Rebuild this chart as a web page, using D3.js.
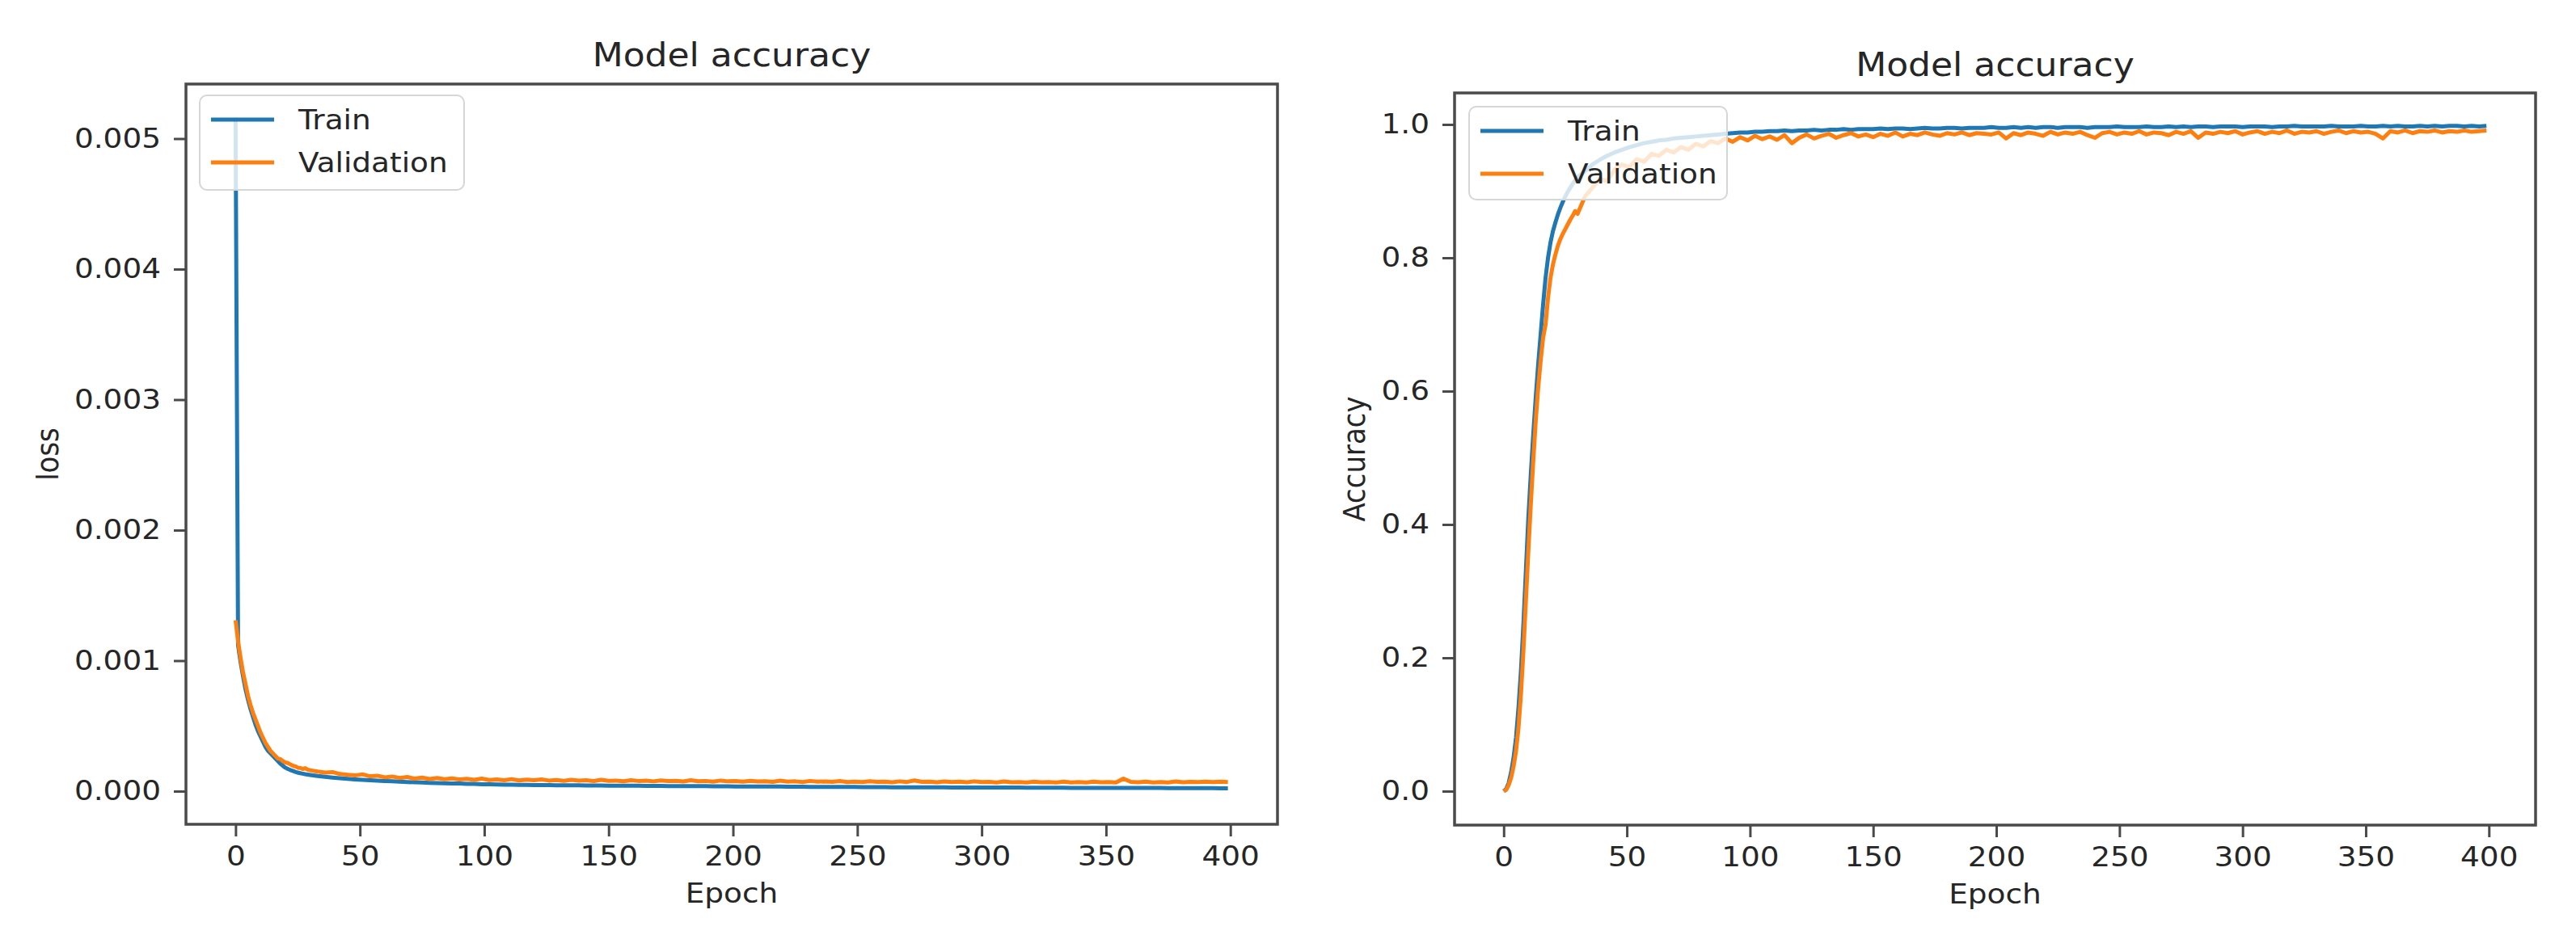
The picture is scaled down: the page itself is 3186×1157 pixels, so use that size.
<!DOCTYPE html>
<html>
<head>
<meta charset="utf-8">
<script src="https://cdn.jsdelivr.net/npm/d3@7"></script>
<style>
  html, body { margin: 0; padding: 0; background: #ffffff; }
  svg { display: block; }
  text { font-family: "DejaVu Sans", sans-serif; fill: #262626; }
</style>
</head>
<body>
<script>
// ---------------- DATA ----------------
const epochs = [
  0,1,2,3,4,5,6,7,8,9,10,11,12,13,14,15,16,17,18,19,20,21,22,23,24,25,26,27,28,29,30,
  33,36,39,42,45,48,51,54,57,60,
  63,66,69,72,75,78,81,84,87,90,
  93,96,99,102,105,108,111,114,117,120,
  123,126,129,132,135,138,141,144,147,150,
  153,156,159,162,165,168,171,174,177,180,
  183,186,189,192,195,198,201,204,207,210,
  213,216,219,222,225,228,231,234,237,240,
  243,246,249,252,255,258,261,264,267,270,
  273,276,279,282,285,288,291,294,297,300,
  303,306,309,312,315,318,321,324,327,330,
  333,336,339,342,345,348,351,354,357,360,
  363,366,369,372,375,378,381,384,387,390,
  393,396,399
];

const lossTrain = [
  0.00516,0.00112,0.00099,0.00088,0.00078,0.00070,0.00063,0.00057,0.00051,0.00046,0.00042,0.00038,0.00034,0.00031,
  0.00029,0.00027,0.00025,0.00023,0.00021,0.000195,0.00018,0.00017,0.000162,0.000155,0.000148,0.000142,0.000138,0.000134,0.00013,0.000127,0.000124,
  11.6e-5,11.0e-5,10.4e-5,9.9e-5,9.4e-5,9.0e-5,8.7e-5,8.3e-5,8.0e-5,7.7e-5,
  7.5e-5,7.2e-5,7.0e-5,6.8e-5,6.6e-5,6.4e-5,6.2e-5,6.0e-5,5.9e-5,5.8e-5,
  5.6e-5,5.5e-5,5.3e-5,5.2e-5,5.1e-5,5.0e-5,4.9e-5,4.8e-5,4.8e-5,4.7e-5,
  4.6e-5,4.6e-5,4.5e-5,4.5e-5,4.4e-5,4.4e-5,4.3e-5,4.3e-5,4.3e-5,4.2e-5,
  4.2e-5,4.1e-5,4.1e-5,4.1e-5,4.0e-5,4.0e-5,4.0e-5,3.9e-5,3.9e-5,3.9e-5,
  3.8e-5,3.8e-5,3.8e-5,3.7e-5,3.7e-5,3.7e-5,3.6e-5,3.6e-5,3.6e-5,3.5e-5,
  3.5e-5,3.5e-5,3.5e-5,3.4e-5,3.4e-5,3.4e-5,3.3e-5,3.3e-5,3.3e-5,3.3e-5,
  3.2e-5,3.2e-5,3.2e-5,3.1e-5,3.1e-5,3.1e-5,3.1e-5,3.0e-5,3.0e-5,3.0e-5,
  3.0e-5,2.9e-5,2.9e-5,2.9e-5,2.9e-5,2.8e-5,2.8e-5,2.8e-5,2.8e-5,2.8e-5,
  2.7e-5,2.7e-5,2.7e-5,2.7e-5,2.7e-5,2.6e-5,2.6e-5,2.6e-5,2.6e-5,2.6e-5,
  2.6e-5,2.5e-5,2.5e-5,2.5e-5,2.5e-5,2.5e-5,2.5e-5,2.4e-5,2.4e-5,2.4e-5,
  2.4e-5,2.4e-5,2.4e-5,2.4e-5,2.3e-5,2.3e-5,2.3e-5,2.3e-5,2.3e-5,2.3e-5,
  2.3e-5,2.2e-5,2.2e-5
];

const lossVal = [
  0.00131,0.00115,0.00102,0.00091,0.00082,0.00073,0.00066,0.00060,0.00055,0.00050,0.00045,0.00041,0.00037,0.00034,
  0.00031,0.00029,0.00027,0.00025,0.000245,0.00023,0.00022,0.000215,0.000205,0.000195,0.00019,0.00018,0.000178,0.00017,0.000176,0.000165,0.00016,
  15.0e-5,14.2e-5,14.6e-5,13.1e-5,12.6e-5,12.0e-5,12.9e-5,11.4e-5,11.8e-5,10.6e-5,
  11.2e-5,10.1e-5,10.8e-5,9.6e-5,10.4e-5,9.3e-5,10.0e-5,9.1e-5,9.8e-5,9.0e-5,
  9.4e-5,8.7e-5,9.6e-5,8.5e-5,8.9e-5,8.4e-5,9.2e-5,8.2e-5,8.8e-5,8.3e-5,
  9.0e-5,8.1e-5,8.5e-5,7.9e-5,8.7e-5,8.0e-5,8.3e-5,7.7e-5,8.6e-5,7.9e-5,
  8.1e-5,7.6e-5,8.4e-5,7.8e-5,8.0e-5,7.5e-5,8.2e-5,7.7e-5,7.9e-5,7.4e-5,
  8.3e-5,7.6e-5,7.8e-5,7.3e-5,8.1e-5,7.5e-5,7.7e-5,7.2e-5,7.9e-5,7.4e-5,
  7.6e-5,7.1e-5,8.0e-5,7.3e-5,7.5e-5,7.0e-5,7.8e-5,7.2e-5,7.4e-5,7.1e-5,
  7.7e-5,7.0e-5,7.3e-5,6.9e-5,7.6e-5,7.1e-5,7.2e-5,6.8e-5,7.5e-5,7.0e-5,
  8.2e-5,7.1e-5,7.3e-5,6.8e-5,7.4e-5,6.9e-5,7.2e-5,6.8e-5,7.5e-5,6.9e-5,
  7.1e-5,6.7e-5,7.4e-5,6.8e-5,7.0e-5,6.6e-5,7.3e-5,6.8e-5,7.0e-5,6.7e-5,
  7.2e-5,6.6e-5,6.9e-5,6.7e-5,7.3e-5,6.8e-5,7.0e-5,6.6e-5,9.6e-5,7.1e-5,
  6.8e-5,7.2e-5,6.6e-5,7.0e-5,6.7e-5,7.4e-5,6.8e-5,7.1e-5,6.9e-5,7.3e-5,
  6.9e-5,7.2e-5,7.0e-5
];

const accTrain = [
  0,0.003,0.012,0.028,0.05,0.08,0.125,0.18,0.25,0.33,0.41,0.475,0.535,0.59,0.64,0.685,
  0.73,0.77,0.80,0.823,0.84,0.853,0.865,0.875,0.884,0.892,0.899,0.905,0.911,0.916,0.921,
  0.93,0.94,0.947,0.953,0.958,0.962,0.966,0.969,0.972,0.974,
  0.976,0.977,0.979,0.98,0.981,0.982,0.983,0.984,0.985,0.986,
  0.987,0.988,0.988,0.989,0.989,0.99,0.99,0.991,0.99,0.991,
  0.991,0.992,0.991,0.992,0.992,0.993,0.992,0.993,0.993,0.993,
  0.994,0.993,0.994,0.994,0.993,0.994,0.995,0.994,0.994,0.995,
  0.995,0.994,0.995,0.995,0.995,0.996,0.995,0.995,0.996,0.995,
  0.996,0.995,0.996,0.996,0.995,0.996,0.996,0.996,0.995,0.996,
  0.996,0.996,0.997,0.996,0.996,0.996,0.997,0.996,0.996,0.997,
  0.996,0.997,0.996,0.997,0.997,0.996,0.997,0.997,0.997,0.996,
  0.997,0.997,0.997,0.996,0.997,0.997,0.998,0.997,0.997,0.997,
  0.997,0.998,0.997,0.997,0.997,0.998,0.997,0.997,0.998,0.997,
  0.998,0.997,0.997,0.998,0.997,0.998,0.997,0.998,0.998,0.997,
  0.998,0.997,0.998
];

const accVal = [
  0,0.002,0.009,0.02,0.037,0.06,0.095,0.145,0.21,0.285,0.36,0.43,0.495,0.555,0.605,0.645,
  0.68,0.70,0.74,0.77,0.79,0.805,0.818,0.828,0.836,0.843,0.85,0.857,0.863,0.87,0.866,
  0.892,0.905,0.918,0.915,0.932,0.94,0.936,0.948,0.944,0.956,
  0.953,0.962,0.958,0.966,0.962,0.971,0.967,0.975,0.972,0.979,
  0.974,0.981,0.976,0.983,0.978,0.982,0.977,0.984,0.972,0.98,
  0.985,0.979,0.983,0.986,0.98,0.984,0.987,0.982,0.985,0.981,
  0.986,0.983,0.988,0.982,0.986,0.984,0.988,0.985,0.983,0.987,
  0.985,0.988,0.984,0.987,0.986,0.985,0.988,0.979,0.987,0.984,
  0.988,0.986,0.983,0.989,0.985,0.988,0.986,0.989,0.984,0.98,
  0.987,0.989,0.985,0.988,0.986,0.99,0.985,0.988,0.987,0.984,
  0.989,0.986,0.99,0.98,0.988,0.986,0.989,0.987,0.99,0.985,
  0.988,0.99,0.986,0.989,0.987,0.991,0.986,0.989,0.988,0.99,
  0.986,0.989,0.991,0.987,0.99,0.988,0.989,0.986,0.979,0.99,
  0.988,0.991,0.987,0.99,0.989,0.991,0.988,0.99,0.989,0.991,
  0.989,0.99,0.991
];

const epochTicks = [0, 50, 100, 150, 200, 250, 300, 350, 400];
const epochTickLabels = ["0", "50", "100", "150", "200", "250", "300", "350", "400"];
const lossTicks = [0, 0.001, 0.002, 0.003, 0.004, 0.005];
const lossTickLabels = ["0.000", "0.001", "0.002", "0.003", "0.004", "0.005"];
const accTicks = [0, 0.2, 0.4, 0.6, 0.8, 1.0];
const accTickLabels = ["0.0", "0.2", "0.4", "0.6", "0.8", "1.0"];
const seriesNames = ["Train", "Validation"];
const seriesColors = ["#1f77b4", "#ff7f0e"];

// ---------------- DRAW ----------------
const W = 3186, H = 1157;
const STRETCH = 1.1;
const svg = d3.select("body").append("svg").attr("width", W).attr("height", H);
svg.append("rect").attr("width", W).attr("height", H).attr("fill", "#ffffff");

function stretchText(sel) {
  sel.each(function () {
    const t = d3.select(this);
    const x = +(t.attr("x") || 0);
    t.attr("transform", `translate(${x},0) scale(${STRETCH},1) translate(${-x},0)`);
  });
}

function panel(cfg) {
  const g = svg.append("g");
  const x = d3.scaleLinear().domain(cfg.xDomain).range([cfg.left, cfg.right]);
  const y = d3.scaleLinear().domain(cfg.yDomain).range([cfg.bottom, cfg.top]);
  const axisColor = "#4a4a4a";

  // lines
  const line = d3.line().x((d) => x(d[0])).y((d) => y(d[1]));
  cfg.series.forEach((vals, i) => {
    g.append("path")
      .datum(epochs.map((e, k) => [e, vals[k]]))
      .attr("fill", "none")
      .attr("stroke", seriesColors[i])
      .attr("stroke-width", 5)
      .attr("stroke-linejoin", "round")
      .attr("d", line);
  });

  // axes
  const ax = g.append("g").attr("transform", `translate(0,${cfg.bottom})`)
    .call(d3.axisBottom(x).tickValues(epochTicks)
      .tickFormat((d, i) => epochTickLabels[i]).tickSize(15).tickPadding(12).tickSizeOuter(0));
  const ay = g.append("g").attr("transform", `translate(${cfg.left},0)`)
    .call(d3.axisLeft(y).tickValues(cfg.yTicks)
      .tickFormat((d, i) => cfg.yTickLabels[i]).tickSize(15).tickPadding(16).tickSizeOuter(0));
  [ax, ay].forEach((a) => {
    a.select(".domain").remove();
    a.selectAll(".tick line").attr("stroke", axisColor).attr("stroke-width", 3);
    a.selectAll(".tick text").attr("font-size", 34).attr("font-family", "DejaVu Sans")
      .attr("fill", "#262626").call(stretchText);
  });

  // frame
  g.append("rect")
    .attr("x", cfg.left).attr("y", cfg.top)
    .attr("width", cfg.right - cfg.left).attr("height", cfg.bottom - cfg.top)
    .attr("fill", "none").attr("stroke", axisColor).attr("stroke-width", 3.5);

  // title
  g.append("text").attr("x", (cfg.left + cfg.right) / 2).attr("y", cfg.titleY)
    .attr("text-anchor", "middle").attr("font-size", 40).text(cfg.title).call(stretchText);
  // x label
  g.append("text").attr("x", (cfg.left + cfg.right) / 2).attr("y", cfg.bottom + 97)
    .attr("text-anchor", "middle").attr("font-size", 34).text("Epoch").call(stretchText);
  // y label
  g.append("text")
    .attr("transform", `translate(${cfg.yLabelX},${(cfg.top + cfg.bottom) / 2}) scale(${STRETCH},1) rotate(-90)`)
    .attr("text-anchor", "middle").attr("font-size", 34).text(cfg.yLabel);

  // legend
  const L = cfg.legend;
  const lg = g.append("g");
  lg.append("rect").attr("x", L.x).attr("y", L.y).attr("width", L.w).attr("height", L.h)
    .attr("rx", 9).attr("ry", 9)
    .attr("fill", "#ffffff").attr("fill-opacity", 0.8)
    .attr("stroke", "#d6d6d6").attr("stroke-width", 2);
  seriesNames.forEach((name, i) => {
    const cy = L.y + 30 + i * 53;
    lg.append("line").attr("x1", L.x + 14).attr("x2", L.x + 92)
      .attr("y1", cy).attr("y2", cy)
      .attr("stroke", seriesColors[i]).attr("stroke-width", 5);
    lg.append("text").attr("x", L.x + 122).attr("y", cy + 12)
      .attr("font-size", 34).text(name).call(stretchText);
  });
}

panel({
  left: 230, right: 1580, top: 104, bottom: 1020,
  xDomain: [-19.95, 418.95], yDomain: [-0.000254, 0.005418],
  yTicks: lossTicks, yTickLabels: lossTickLabels,
  series: [lossTrain, lossVal],
  title: "Model accuracy", titleY: 82,
  yLabel: "loss", yLabelX: 72,
  legend: { x: 247, y: 118, w: 327, h: 117 }
});

panel({
  left: 1799, right: 3136, top: 115, bottom: 1021,
  xDomain: [-19.95, 418.95], yDomain: [-0.0509, 1.0473],
  yTicks: accTicks, yTickLabels: accTickLabels,
  series: [accTrain, accVal],
  title: "Model accuracy", titleY: 94,
  yLabel: "Accuracy", yLabelX: 1688,
  legend: { x: 1817, y: 132, w: 319, h: 115 }
});
</script>
</body>
</html>
